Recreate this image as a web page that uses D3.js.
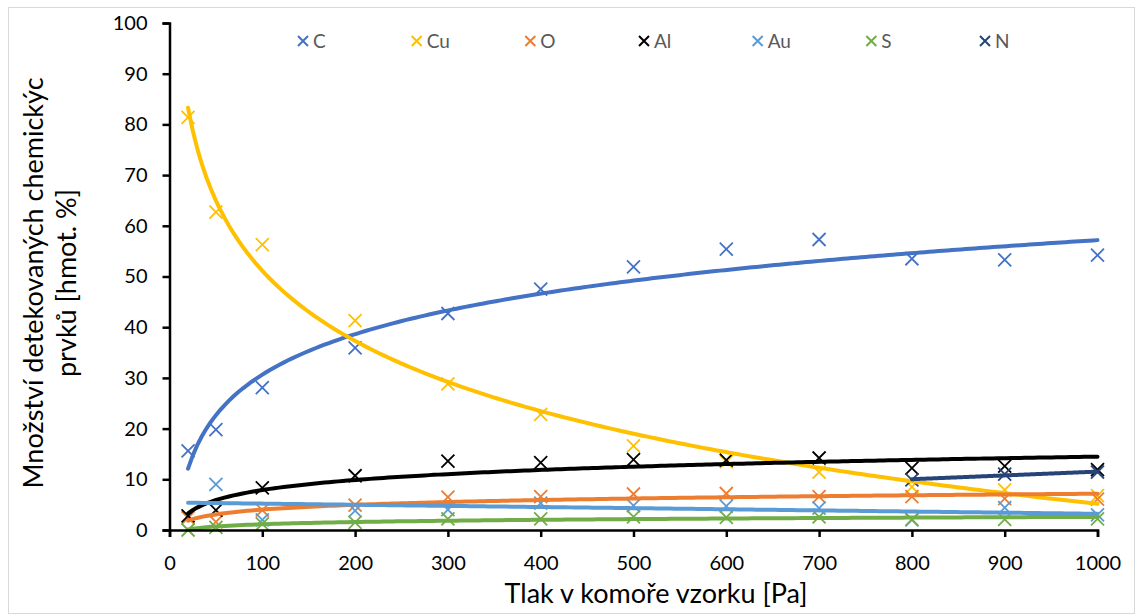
<!DOCTYPE html>
<html>
<head>
<meta charset="utf-8">
<script src="https://cdn.jsdelivr.net/npm/d3@7"></script>
<style>
  body { margin: 0; background: #fff; }
  svg { font-family: Lato, "Open Sans", sans-serif; }
</style>
</head>
<body>
<div id="chart"></div>
<script>
var pressure = [20, 50, 100, 200, 300, 400, 500, 600, 700, 800, 900, 1000];
var carbon = [15.6, 19.8, 28.1, 35.9, 42.7, 47.5, 51.9, 55.4, 57.3, 53.5, 53.3, 54.2];
var copper = [81.4, 62.7, 56.3, 41.3, 28.8, 22.8, 16.6, 13.5, 11.4, 8.5, 7.9, 6.8];
var oxygen = [2.4, 1.6, 3.9, 4.9, 6.5, 6.6, 7.1, 7.2, 6.6, 6.6, 6.2, 6.1];
var aluminium = [2.8, 3.9, 8.3, 10.7, 13.6, 13.3, 13.9, 13.8, 14.2, 12.2, 12.6, 11.9];
var gold = [null, 9.0, 2.0, 3.8, 4.0, 5.3, 4.8, 4.7, 4.3, 2.0, 4.4, 3.0];
var sulfur = [0.0, 0.5, 1.2, 1.5, 2.2, 2.2, 2.6, 2.5, 2.6, 2.1, 2.1, 2.2];
var nitrogen = [null, null, null, null, null, null, null, null, null, 9.9, 11.0, 11.4];

var elements = ["C", "Cu", "O", "Al", "Au", "S", "N"];
var colors = ["#4472C4", "#FFC000", "#ED7D31", "#000000", "#5B9BD5", "#70AD47", "#264478"];
var trendTypes = ["log", "log", "log", "log", "linear", "log", "linear"];
var trendBackward = [0, 0, 0, 0, 30, 0, 0];
var xTicks = [0, 100, 200, 300, 400, 500, 600, 700, 800, 900, 1000];
var yTicks = [0, 10, 20, 30, 40, 50, 60, 70, 80, 90, 100];

var series = [carbon, copper, oxygen, aluminium, gold, sulfur, nitrogen].map(function (vals, i) {
    var pts = pressure.map(function (p, k) { return [p, vals[k]]; })
        .filter(function (d) { return d[1] != null; });
    return {
        name: elements[i],
        color: colors[i],
        trend: trendTypes[i],
        backward: trendBackward[i],
        xs: pts.map(function (d) { return d[0]; }),
        ys: pts.map(function (d) { return d[1]; })
    };
});

// least squares fit like the spreadsheet trendline
function fit(xs, ys, type) {
    var tx = type == "log" ? xs.map(Math.log) : xs.slice();
    var mx = d3.mean(tx), my = d3.mean(ys);
    var sxy = d3.sum(tx, function (t, i) { return (t - mx) * (ys[i] - my); });
    var sxx = d3.sum(tx, function (t) { return (t - mx) * (t - mx); });
    var a = sxy / sxx, b = my - a * mx;
    return function (x) {
        return a * (type == "log" ? Math.log(x) : x) + b;
    };
}

var W = 1138, H = 615;
var margin = {top: 23, right: 40.5, bottom: 85, left: 169.5},
    width = W - margin.left - margin.right,
    height = H - margin.top - margin.bottom;

var root = d3.select("#chart").append("svg")
    .attr("width", W)
    .attr("height", H);

// outer chart frame
root.append("rect")
    .attr("x", 8.5).attr("y", 7.5)
    .attr("width", 1126).attr("height", 606)
    .attr("fill", "#fff")
    .attr("stroke", "#d9d9d9")
    .attr("stroke-width", 1);

var svg = root.append("g")
    .attr("transform", "translate(" + margin.left + "," + margin.top + ")");

var x = d3.scaleLinear().domain([0, 1000]).range([0, width]);
var y = d3.scaleLinear().domain([0, 100]).range([height, 0]);

function cross(g, cx, cy, r, color, sw) {
    g.append("path")
        .attr("d", "M" + (cx - r) + "," + (cy - r) + "L" + (cx + r) + "," + (cy + r) +
                   "M" + (cx - r) + "," + (cy + r) + "L" + (cx + r) + "," + (cy - r))
        .attr("stroke", color)
        .attr("stroke-width", sw)
        .attr("fill", "none");
}

// markers
var marks = svg.append("g");
series.forEach(function (s) {
    s.xs.forEach(function (px, i) {
        cross(marks, x(px), y(s.ys[i]), 6.5, s.color, 1.8);
    });
});

// trend lines
var line = d3.line()
    .x(function (d) { return x(d[0]); })
    .y(function (d) { return y(d[1]); });

var trends = svg.append("g");
series.forEach(function (s) {
    var f = fit(s.xs, s.ys, s.trend);
    var lo = d3.min(s.xs) - s.backward, hi = d3.max(s.xs);
    var pts = d3.range(0, 201).map(function (k) {
        var px = lo + (hi - lo) * k / 200;
        return [px, f(px)];
    });
    trends.append("path")
        .datum(pts)
        .attr("d", line)
        .attr("fill", "none")
        .attr("stroke", s.color)
        .attr("stroke-width", 4)
        .attr("stroke-linecap", "round");
});

// axes
var xAxis = svg.append("g")
    .attr("transform", "translate(0," + height + ")")
    .call(d3.axisBottom(x).tickValues(xTicks).tickFormat(d3.format("d")).tickSize(7).tickPadding(19));
var yAxis = svg.append("g")
    .call(d3.axisLeft(y).tickValues(yTicks).tickFormat(d3.format("d")).tickSize(7).tickPadding(15));

[xAxis, yAxis].forEach(function (ax) {
    ax.select(".domain").attr("stroke", "#000").attr("stroke-width", 2.5);
    ax.selectAll(".tick line").attr("stroke", "#000").attr("stroke-width", 2.5);
    ax.selectAll(".tick text")
        .attr("fill", "#000")
        .style("font-size", "20px")
        .style("font-family", "Lato, sans-serif");
});

// axis titles
root.append("text")
    .attr("x", 656).attr("y", 603)
    .attr("text-anchor", "middle")
    .style("font-size", "27px")
    .text("Tlak v komoře vzorku [Pa]");

root.append("text")
    .attr("transform", "translate(43,283) rotate(-90)")
    .attr("text-anchor", "middle")
    .style("font-size", "27px")
    .text("Množství detekovaných chemickýc");
root.append("text")
    .attr("transform", "translate(76,283) rotate(-90)")
    .attr("text-anchor", "middle")
    .style("font-size", "27px")
    .text("prvků [hmot. %]");

// legend
var legendX = d3.scalePoint().domain(elements).range([303, 985]);
var legend = root.append("g");
series.forEach(function (s) {
    var lx = legendX(s.name);
    cross(legend, lx, 41, 5, s.color, 2);
    legend.append("text")
        .attr("x", lx + 10).attr("y", 48)
        .attr("fill", "#595959")
        .style("font-size", "19px")
        .text(s.name);
});
</script>
</body>
</html>
